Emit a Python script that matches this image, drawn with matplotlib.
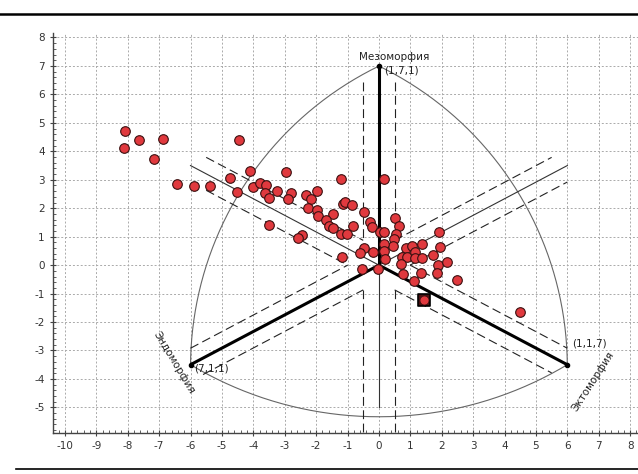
import matplotlib.pyplot as plt
import numpy as np
from matplotlib.lines import Line2D
from matplotlib.ticker import MultipleLocator

plt.rcParams['axes.unicode_minus'] = False

# somatotype points (x = ecto - endo, y = scaled meso component)
xs = [-8.09, -8.11, -7.63, -6.89, -7.16, -6.42, -5.90, -5.38, -4.47, -4.75,
      -4.52, -4.11, -4.02, -3.80, -3.59, -3.64, -3.50, -3.50, -3.23, -2.95,
      -2.80, -2.88, -2.33, -2.17, -2.25, -1.96, -1.98, -1.93, -2.46, -2.57,
      -1.20, 0.15, -1.15, -1.07, -0.85, -1.46, -1.69, -1.60, -1.47, -1.21,
      -1.01, -0.83, -0.46, -0.30, -0.21, 0.51, 0.63, 0.54, 0.05, 0.16,
      1.90, 0.47, 0.44, 0.17, 0.16, 0.85, 0.73, 0.90, -1.19, -0.47,
      -0.60, -0.20, -0.55, -0.02, 0.18, 0.70, 0.76, 1.36, 1.04, 1.15,
      1.15, 1.36, 1.72, 1.95, 1.87, 2.17, 1.34, 1.86, 2.50, 1.11,
      4.48]
ys = [4.73, 4.12, 4.40, 4.43, 3.73, 2.85, 2.79, 2.79, 4.38, 3.05,
      2.57, 3.30, 2.76, 2.89, 2.80, 2.53, 2.35, 1.41, 2.61, 3.28,
      2.52, 2.33, 2.46, 2.33, 2.01, 2.61, 1.92, 1.74, 1.05, 0.94,
      3.03, 3.03, 2.15, 2.23, 2.10, 1.80, 1.57, 1.38, 1.32, 1.09,
      1.10, 1.38, 1.87, 1.51, 1.33, 1.67, 1.38, 1.11, 1.15, 1.16,
      1.15, 0.91, 0.68, 0.73, 0.50, 0.60, 0.30, 0.30, 0.28, 0.60,
      0.44, 0.46, -0.14, -0.12, 0.21, 0.03, -0.32, 0.74, 0.66, 0.46,
      0.25, 0.25, 0.35, 0.62, 0.02, 0.11, -0.28, -0.27, -0.52, -0.56,
      -1.63]
mean_x, mean_y = 1.42, -1.22

# chart geometry
meso = (0, 7)
endo = (-6, -3.5)
ecto = (6, -3.5)
k = 7 / 12          # slope of the diagonal axes
off = 0.579         # vertical offset of dashed guides

fig = plt.figure(figsize=(6.38, 4.74), dpi=100)
ax = fig.add_axes([0.083, 0.0865, 0.917, 0.844])
ax.set_xlim(-10.38, 8.25)
ax.set_ylim(-5.9, 8.16)

for s in ['top', 'right']:
    ax.spines[s].set_visible(False)
for s in ['left', 'bottom']:
    ax.spines[s].set_color('#444444')
    ax.spines[s].set_linewidth(1.0)
ax.xaxis.set_major_locator(MultipleLocator(1))
ax.yaxis.set_major_locator(MultipleLocator(1))
ax.xaxis.set_minor_locator(MultipleLocator(0.2))
ax.yaxis.set_minor_locator(MultipleLocator(0.2))
ax.tick_params(which='major', direction='inout', length=5, width=0.8,
               colors='#444444', labelsize=7.5, labelcolor='#333333')
ax.tick_params(which='minor', direction='in', length=2, width=0.6, colors='#444444')
ax.grid(True, which='major', color='#aaaaaa', linestyle=(0, (2, 2)), linewidth=0.7)
ax.set_axisbelow(True)

gray = '#666666'
# boundary arcs (circles in screen space -> ellipses in data units)
sx, sy = 31.4, 28.45


def arc(cx, cy, r, p0, p1):
    a0 = np.arctan2((p0[1] - cy) * sy, (p0[0] - cx) * sx)
    a1 = np.arctan2((p1[1] - cy) * sy, (p1[0] - cx) * sx)
    t = np.linspace(a0, a1, 200)
    ax.plot(cx + r / sx * np.cos(t), cy + r / sy * np.sin(t), color=gray, lw=0.8)


arc(4.66, -3.585, 334.7, meso, endo)
arc(-4.66, -3.585, 334.7, ecto, meso)
a0 = np.arctan2((endo[1] - 7.56) * sy, endo[0] * sx)
a1 = np.arctan2((ecto[1] - 7.56) * sy, ecto[0] * sx)
t = np.linspace(a0 - 2 * np.pi if a0 > 0 else a0, a1, 200)
ax.plot(366.7 / sx * np.cos(t), 7.56 + 366.7 / sy * np.sin(t), color=gray, lw=0.8)

# thin axis lines
ax.plot([0, 0], [-5, 7], color='#333333', lw=0.8)
ax.plot([-6, 6], [3.5, -3.5], color='#333333', lw=0.8)
ax.plot([-6, 6], [-3.5, 3.5], color='#333333', lw=0.8)

# dashed guides
dash = dict(color='#222222', lw=0.8, linestyle=(0, (8, 4)))
xm = off / k
ax.plot([-0.5, -0.5], [6.45, k * 0.5 + off], **dash)
ax.plot([0.5, 0.5], [6.45, k * 0.5 + off], **dash)
ax.plot([-0.5, -0.5], [-5.85, -(k * 0.5 + off)], **dash)
ax.plot([0.5, 0.5], [-5.85, -(k * 0.5 + off)], **dash)
xa = np.array([-5.5, -0.5]); ax.plot(xa, -k * xa + off, **dash)
xa = np.array([-5.5, -xm]); ax.plot(xa, -k * xa - off, **dash)
xa = np.array([xm, 6.0]); ax.plot(xa, -k * xa + off, **dash)
xa = np.array([0.5, 5.5]); ax.plot(xa, -k * xa - off, **dash)
xa = np.array([0.5, 5.5]); ax.plot(xa, k * xa + off, **dash)
xa = np.array([xm, 6.0]); ax.plot(xa, k * xa - off, **dash)
xa = np.array([-6.0, -xm]); ax.plot(xa, k * xa + off, **dash)
xa = np.array([-5.6, -0.5]); ax.plot(xa, k * xa - off, **dash)

# thick axes to the vertices
for v in (meso, endo, ecto):
    ax.plot([0, v[0]], [0, v[1]], color='black', lw=2.2, solid_capstyle='butt')
    ax.plot(v[0], v[1], 'o', color='black', ms=3)

ax.scatter(xs, ys, s=48, c='#e0393e', edgecolors='#3a1010', linewidths=0.8, zorder=5)
ax.scatter([mean_x], [mean_y], s=85, marker='s', c='#4a1010', edgecolors='black',
           linewidths=1.2, zorder=6)
ax.scatter([mean_x], [mean_y], s=42, c='#e0393e', edgecolors='#3a1010', linewidths=0.5, zorder=7)

tc = '#222222'
ax.text(0.5, 7.3, 'Мезоморфия', fontsize=7.5, color=tc, ha='center', va='center')
ax.text(0.15, 6.83, '(1,7,1)', fontsize=7.5, color=tc, ha='left', va='center')
ax.text(-5.88, -3.65, '(7,1,1)', fontsize=7.5, color=tc, ha='left', va='center')
ax.text(6.15, -2.77, '(1,1,7)', fontsize=7.5, color=tc, ha='left', va='center')
ax.text(-6.53, -3.43, 'Эндоморфия', fontsize=7.5, color=tc, ha='center', va='center',
        rotation=-59, rotation_mode='anchor')
ax.text(6.82, -4.1, 'Эктоморфия', fontsize=7.5, color=tc, ha='center', va='center',
        rotation=57, rotation_mode='anchor')

# page rules above and below the chart
fig.add_artist(Line2D([0, 1], [1 - 14 / 474, 1 - 14 / 474], color='black', lw=1.8))
fig.add_artist(Line2D([16 / 638, 1], [1 - 469 / 474, 1 - 469 / 474], color='black', lw=1.2))

fig.savefig('out.png', dpi=100)
